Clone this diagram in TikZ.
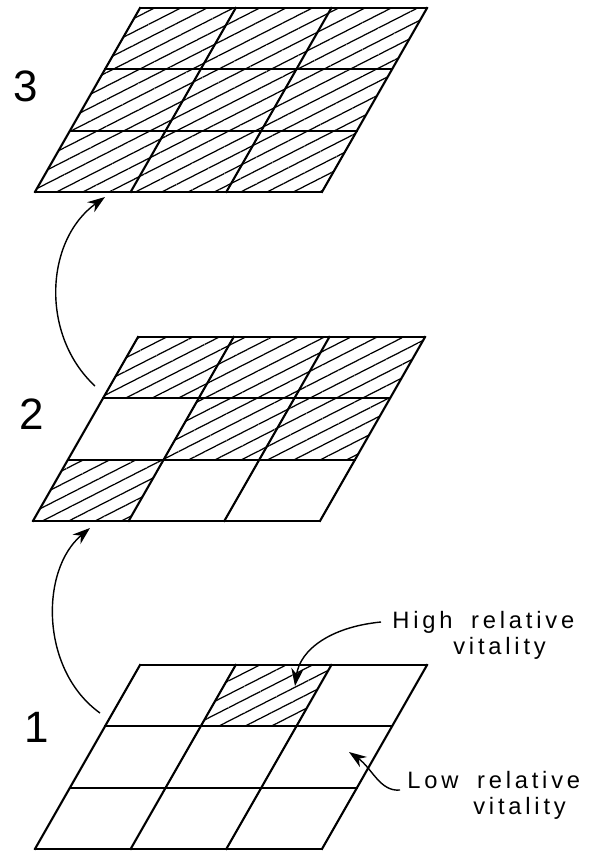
\documentclass[tikz,border=0pt]{standalone}
\usepackage{fontspec}
\setmainfont{Liberation Sans}
\newfontfamily\tagfont{Liberation Sans}[LetterSpace=16, WordSpace=1.8]
\usetikzlibrary{arrows.meta, patterns.meta}

\begin{document}
\begin{tikzpicture}[
    x=0.02cm, y=-0.02cm,
    gridline/.style={line width=1.2pt, line cap=rect, line join=miter},
    hatched/.style={pattern={Lines[angle=27, distance=6.8pt, line width=0.7pt]}},
    growth/.style={-{Stealth[length=10pt, width=7pt]}, line width=0.8pt},
    tag/.style={font=\tagfont\fontsize{13.5}{15}\selectfont, align=left, anchor=north west, inner sep=0pt},
    stage/.style={font=\fontsize{25}{25}\selectfont, inner sep=0pt}
]
    \useasboundingbox (0,0) rectangle (590,851);

    % Stage 3: all cells hatched
    \begin{scope}[shift={(140,8)}, x={(1.914cm,0cm)}, y={(-0.7cm,-1.226cm)}]
        \fill[hatched] (0,0) -- (3,0) -- (3,3) -- (0,3) -- cycle;
        \foreach \k in {0,...,3} {
            \draw[gridline] (0,\k) -- (3,\k);
            \draw[gridline] (\k,0) -- (\k,3);
        }
    \end{scope}

    % Stage 2
    \begin{scope}[shift={(138,337)}, x={(1.914cm,0cm)}, y={(-0.7cm,-1.226cm)}]
        \foreach \i/\j in {0/0, 1/0, 2/0, 1/1, 2/1, 0/2}
            \fill[hatched] (\i,\j) -- ++(1,0) -- ++(0,1) -- ++(-1,0) -- cycle;
        \foreach \k in {0,...,3} {
            \draw[gridline] (0,\k) -- (3,\k);
            \draw[gridline] (\k,0) -- (\k,3);
        }
    \end{scope}

    % Stage 1
    \begin{scope}[shift={(140,665)}, x={(1.914cm,0cm)}, y={(-0.7cm,-1.226cm)}]
        \fill[hatched] (1,0) -- (2,0) -- (2,1) -- (1,1) -- cycle;
        \foreach \k in {0,...,3} {
            \draw[gridline] (0,\k) -- (3,\k);
            \draw[gridline] (\k,0) -- (\k,3);
        }
    \end{scope}

    % Stage numbers
    \node[stage] (s3) at (26,86) {3};
    \node[stage] (s2) at (32,414) {2};
    \node[stage] (s1) at (37,727) {1};

    % Labels
    \node[tag] (high) at (392,611) {High relative\\\hspace*{1.22cm}vitality};
    \node[tag] (low) at (407,771) {Low relative\\\hspace*{1.32cm}vitality};

    % Arrow ends
    \coordinate (from1) at (100,713);
    \coordinate (to2) at (90,528);
    \coordinate (from2) at (95,386);
    \coordinate (to3) at (105,197);
    \coordinate (highstart) at (381,622);
    \coordinate (highcell) at (295,686);
    \coordinate (lowstart) at (400,790);
    \coordinate (lowcell) at (349,752);

    % Arrows
    \draw[growth] (from2) .. controls (40,335) and (45,240) .. (to3);
    \draw[growth] (from1) .. controls (40,670) and (40,570) .. (to2);
    \draw[growth] (highstart) .. controls (330,627) and (300,650) .. (highcell);
    \draw[growth] (lowstart) .. controls (380,792) and (372,768) .. (lowcell);
\end{tikzpicture}
\end{document}
